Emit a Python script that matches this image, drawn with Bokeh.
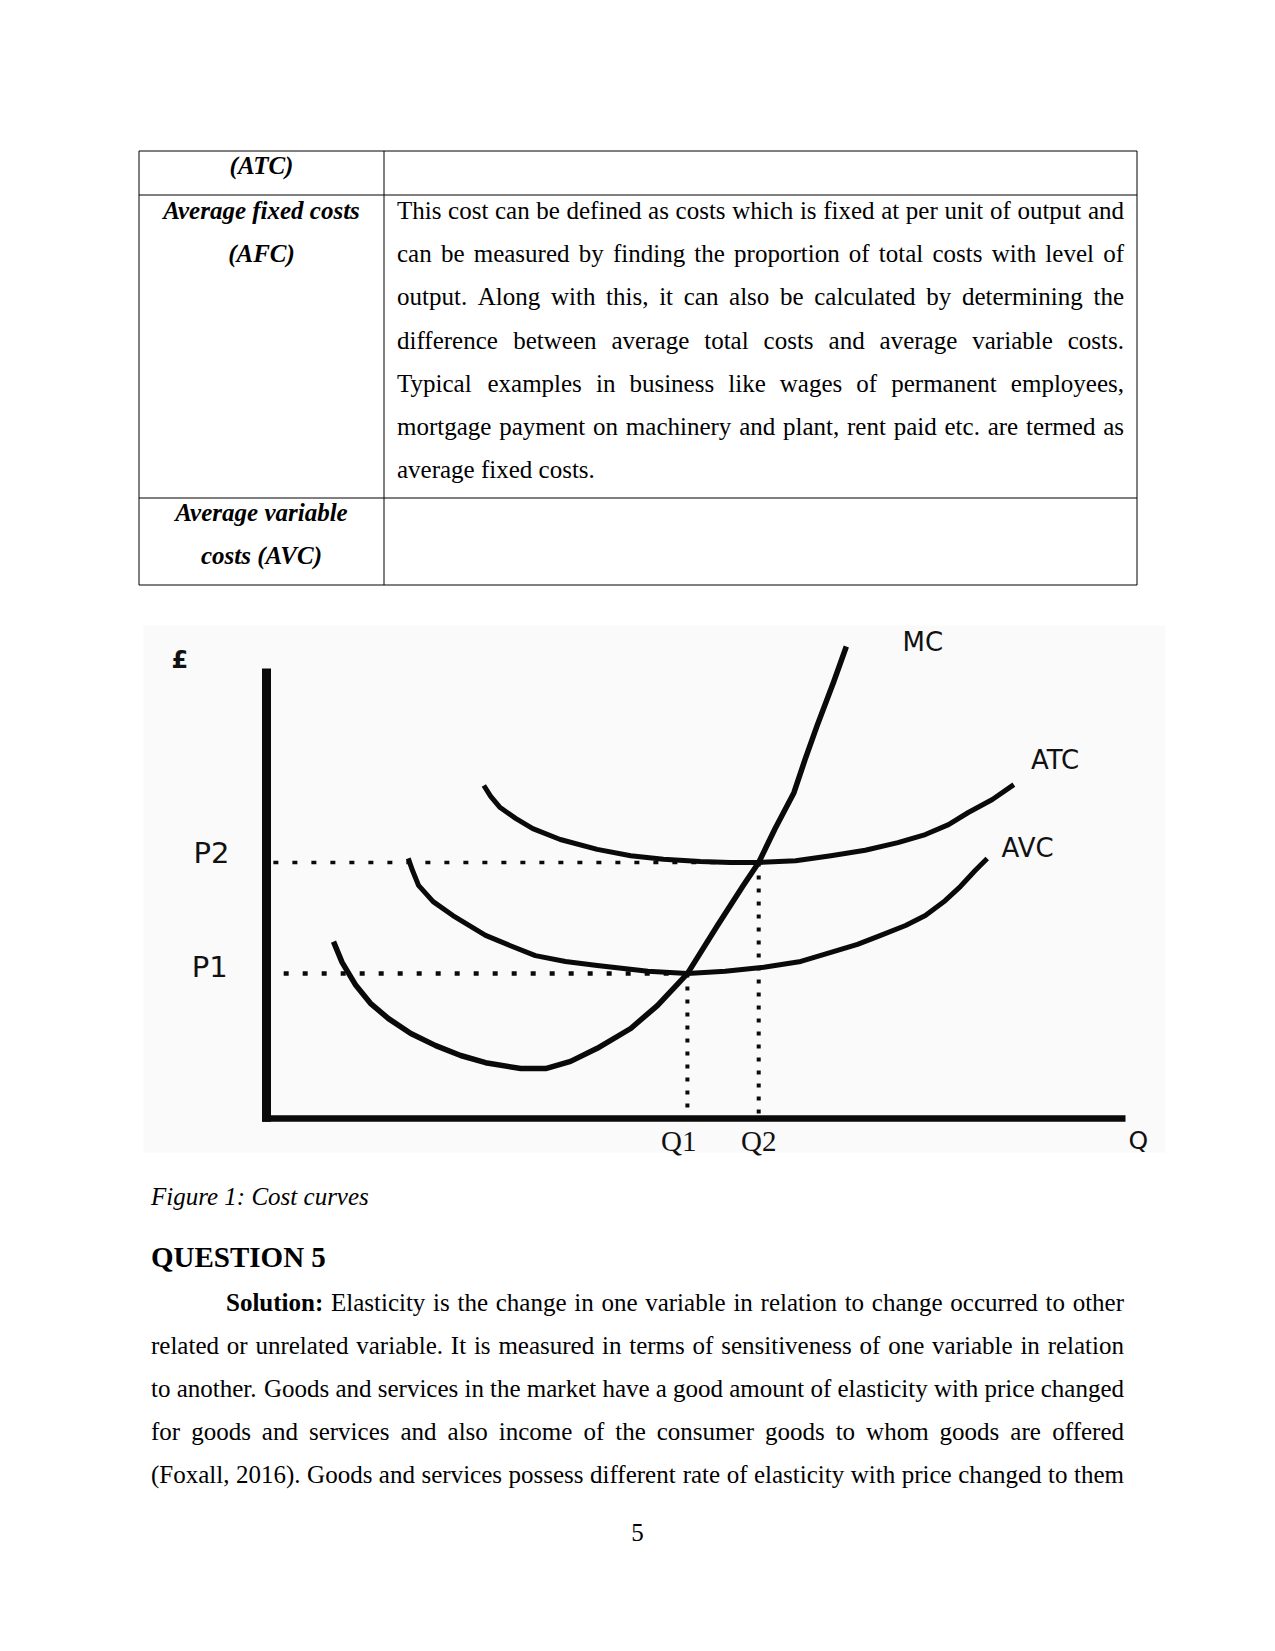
from bokeh.plotting import figure
from bokeh.models import Range1d, ColumnDataSource
from bokeh.core.properties import value
from bokeh.embed import file_html
from bokeh.resources import INLINE

W, H = 1275, 1651

# ---------------- chart data (Q along the axis 0..100, £ up the axis 0..100) ----------------
mc_q = [7.8, 8.8, 10.4, 12.1, 14.2, 16.8, 19.7, 22.6, 25.5, 29.6, 32.5, 35.4, 38.5, 42.4, 45.5,
        49.0, 52.5, 55.5, 57.3, 59.2, 61.4, 62.7, 64.1, 66.0, 67.5]
mc_c = [39.3, 34.7, 29.6, 25.6, 22.2, 18.9, 16.2, 14.0, 12.4, 11.1, 11.1, 12.7, 15.6, 20.0, 25.1,
        32.2, 42.9, 51.8, 56.9, 64.4, 72.4, 79.8, 87.3, 96.9, 104.9]

atc_q = [25.3, 26.1, 27.2, 29.0, 31.0, 34.2, 38.5, 42.4, 46.2, 50.5, 54.0, 57.3, 61.6, 65.7,
         69.7, 73.5, 76.7, 79.4, 81.7, 84.5, 87.0]
atc_c = [74.0, 71.6, 69.1, 66.7, 64.4, 62.0, 59.8, 58.4, 57.6, 57.1, 56.9, 56.9, 57.3, 58.4,
         59.6, 61.3, 63.1, 65.3, 68.0, 70.9, 74.2]

avc_q = [16.5, 17.0, 17.7, 19.4, 21.7, 25.5, 28.4, 31.3, 34.8, 38.5, 44.4, 49.0, 53.4, 57.9,
         62.2, 65.7, 68.8, 71.5, 74.4, 76.7, 79.0, 80.8, 82.5, 83.9]
avc_c = [57.8, 55.1, 51.8, 48.2, 45.1, 40.7, 38.4, 36.2, 34.9, 34.0, 32.7, 32.2, 32.7, 33.6,
         34.9, 36.9, 38.7, 40.7, 42.9, 45.1, 48.4, 51.6, 55.1, 57.8]

P1, P2 = 32.2, 56.9
Q1, Q2 = 49.0, 57.3
Q_MAX, C_MAX = 100.0, 100.0

curve_names = ["MC", "ATC", "AVC"]
price_labels = ["P1", "P2"]
qty_labels = ["Q1", "Q2"]

# ---------------- page texts ----------------
table_left_col = [("(ATC)",), ("Average fixed costs", "(AFC)"), ("Average variable", "costs (AVC)")]
afc_lines = [
    "This cost can be defined as costs which is fixed at per unit of output and",
    "can be measured by finding the proportion of total costs with level of",
    "output. Along with this, it can also be calculated by determining the",
    "difference between average total costs and average variable costs.",
    "Typical examples in business like wages of permanent employees,",
    "mortgage payment on machinery and plant, rent paid etc. are termed as",
    "average fixed costs.",
]
caption = "Figure 1: Cost curves"
heading = "QUESTION 5"
body_lines = [
    "Solution: Elasticity is the change in one variable in relation to change occurred to other",
    "related or unrelated variable. It is measured in terms of sensitiveness of one variable in relation",
    "to another. Goods and services in the market have a good amount of elasticity with price changed",
    "for goods and services and also income of the consumer goods to whom goods are offered",
    "(Foxall, 2016). Goods and services possess different rate of elasticity with price changed to them",
]
page_number = "5"

# ---------------- font metrics (Times / Liberation Serif, units per 1000) ----------------
TR = {' ': 250, '.': 250, ',': 250, ':': 278, ';': 278, '(': 333, ')': 333, '-': 333, "'": 180}
TR.update({c: w for c, w in zip("abcdefghijklmnopqrstuvwxyz",
          [444, 500, 444, 500, 444, 333, 500, 500, 278, 278, 500, 278, 778, 500, 500, 500, 500,
           333, 389, 278, 500, 500, 722, 500, 500, 444])})
TR.update({c: w for c, w in zip("ABCDEFGHIJKLMNOPQRSTUVWXYZ",
          [722, 667, 667, 722, 611, 556, 722, 722, 333, 389, 722, 611, 889, 722, 722, 556, 722,
           667, 556, 611, 722, 722, 944, 722, 722, 611])})
TR.update({d: 500 for d in "0123456789"})
TB = {'S': 556, 'o': 500, 'l': 278, 'u': 556, 't': 333, 'i': 278, 'n': 556, ':': 333}


def text_width(s, table, size):
    return sum(table.get(ch, 500) for ch in s) * size / 1000.0


FS = 25  # body font size in px
DY = -8.0  # baseline correction


def justify(line, left, right, y, bold_first=False, last_line=False):
    words = line.split(" ")
    out = []
    if last_line:
        out.append((left, y, line, "normal", "left"))
        return out
    widths = []
    for i, w in enumerate(words):
        tb = TB if (bold_first and i == 0) else TR
        widths.append(text_width(w, tb, FS))
    gap = (right - left - sum(widths)) / (len(words) - 1)
    x = left
    for i, w in enumerate(words):
        style = "bold" if (bold_first and i == 0) else "normal"
        if i == len(words) - 1:
            out.append((right, y, w, style, "right"))
        else:
            out.append((x, y, w, style, "left"))
        x += widths[i] + gap
    return out


# ---------------- figure ----------------
p = figure(width=W, height=H, x_range=Range1d(0, W), y_range=Range1d(H, 0),
           output_backend="svg", toolbar_location=None,
           x_axis_location=None, y_axis_location=None, min_border=0)
p.grid.visible = False
p.outline_line_color = None
p.background_fill_color = "white"
p.border_fill_color = "white"

# chart placement on page (pixels)
X0, XS = 266.0, 8.59   # origin x, px per Q unit
Y0, YS = 1118.0, 4.5   # origin y, px per £ unit
p.extra_x_ranges = {"q": Range1d(-X0 / XS, (W - X0) / XS)}
p.extra_y_ranges = {"c": Range1d((Y0 - H) / YS, Y0 / YS)}
CH = dict(x_range_name="q", y_range_name="c")

# ---- table ----
TL, TC, TRR = 138.5, 383.5, 1136.5
rows = [150.5, 194.5, 497.5, 584.5]
hx0 = [TL] * len(rows)
hx1 = [TRR] * len(rows)
p.segment(x0=hx0, y0=rows, x1=hx1, y1=rows, line_color="black", line_width=1)
p.segment(x0=[TL, TC, TRR], y0=[rows[0]] * 3, x1=[TL, TC, TRR], y1=[rows[-1]] * 3,
          line_color="black", line_width=1)

serif = value("Liberation Serif")
left_baselines = [[173.3], [218.3, 261.4], [520.0, 563.0]]
lx, ly, lt = [], [], []
for texts, ys in zip(table_left_col, left_baselines):
    for t, yy in zip(texts, ys):
        lx.append((TL + TC) / 2)
        ly.append(yy + DY)
        lt.append(t)
p.text(x=lx, y=ly, text=lt, text_font=serif, text_font_size=value("25px"),
       text_font_style="bold italic", text_align="center", text_baseline="alphabetic",
       text_color="black")

words = []
for i, line in enumerate(afc_lines):
    words += justify(line, 396.5, 1123.5, 218.3 + DY + 43.07 * i,
                     last_line=(i == len(afc_lines) - 1))

for i, line in enumerate(body_lines):
    left = 225.5 if i == 0 else 150.5
    words += justify(line, left, 1123.5, 1310.0 + DY + 43.07 * i, bold_first=(i == 0))

for style in ["normal", "bold"]:
    for align in ["left", "right"]:
        sel = [w for w in words if w[3] == style and w[4] == align]
        if not sel:
            continue
        src = ColumnDataSource(dict(x=[w[0] for w in sel], y=[w[1] for w in sel],
                                    text=[w[2] for w in sel]))
        p.text(x="x", y="y", text="text", source=src, text_font=serif,
               text_font_size=value("25px"), text_font_style=style, text_align=align,
               text_baseline="alphabetic", text_color="black")

p.text(x=[150.5], y=[1203.5 + DY], text=[caption], text_font=serif, text_font_size=value("25px"),
       text_font_style="italic", text_baseline="alphabetic", text_color="black")
p.text(x=[150.5], y=[1264.0 + DY], text=[heading], text_font=serif, text_font_size=value("29px"),
       text_font_style="bold", text_baseline="alphabetic", text_color="black")
p.text(x=[637.0], y=[1540.0 + DY], text=[page_number], text_font=serif,
       text_font_size=value("25px"), text_align="center", text_baseline="alphabetic",
       text_color="black")

# ---- chart image background ----
p.quad(left=[143], right=[1165], top=[625], bottom=[1152], fill_color="#fafafa", line_color=None)

ink = "#0a0a0a"
# axes
p.line(x=[0, 0], y=[-0.7, C_MAX], line_color=ink, line_width=9, **CH)
p.line(x=[-0.5, Q_MAX], y=[0, 0], line_color=ink, line_width=6.5, **CH)

# guide dotted lines
p.line(x=[0.8, Q2], y=[P2, P2], line_color=ink, line_width=3.5, line_dash="5 14", **CH)
p.line(x=[2.0, Q1], y=[P1, P1], line_color=ink, line_width=4.5, line_dash="5 14", **CH)
p.line(x=[Q1, Q1], y=[P1, 0], line_color=ink, line_width=4, line_dash="4 9", **CH)
p.line(x=[Q2, Q2], y=[P2, 0], line_color=ink, line_width=4, line_dash="4 9", **CH)

# curves
p.line(x=atc_q, y=atc_c, line_color=ink, line_width=5, line_join="round", **CH)
p.line(x=avc_q, y=avc_c, line_color=ink, line_width=5, line_join="round", **CH)
p.line(x=mc_q, y=mc_c, line_color=ink, line_width=5.5, line_join="round", **CH)

# chart labels
sans = value("DejaVu Sans")
p.text(x=[76.4, 91.8, 88.6], y=[106.0, 79.6, 60.2], text=curve_names, text_font=sans,
       text_font_size=value("26px"), text_align="center", text_baseline="middle",
       text_color="#111111", **CH)
p.text(x=[-6.6, -6.4], y=[33.6, 58.9], text=price_labels, text_font=sans,
       text_font_size=value("29px"), text_align="center", text_baseline="middle",
       text_color="#111111", **CH)
p.text(x=[-10.1], y=[101.8], text=["£"], text_font=sans, text_font_size=value("24px"),
       text_font_style="bold", text_align="center", text_baseline="middle",
       text_color="#111111", **CH)
p.text(x=[48.0, 57.3], y=[-4.9, -4.9], text=qty_labels, text_font=serif,
       text_font_size=value("29px"), text_align="center", text_baseline="middle",
       text_color="#111111", **CH)
p.text(x=[101.5], y=[-4.9], text=["Q"], text_font=sans, text_font_size=value("25px"),
       text_align="center", text_baseline="middle", text_color="#111111", **CH)

open("out.html", "w").write(file_html(p, INLINE))
